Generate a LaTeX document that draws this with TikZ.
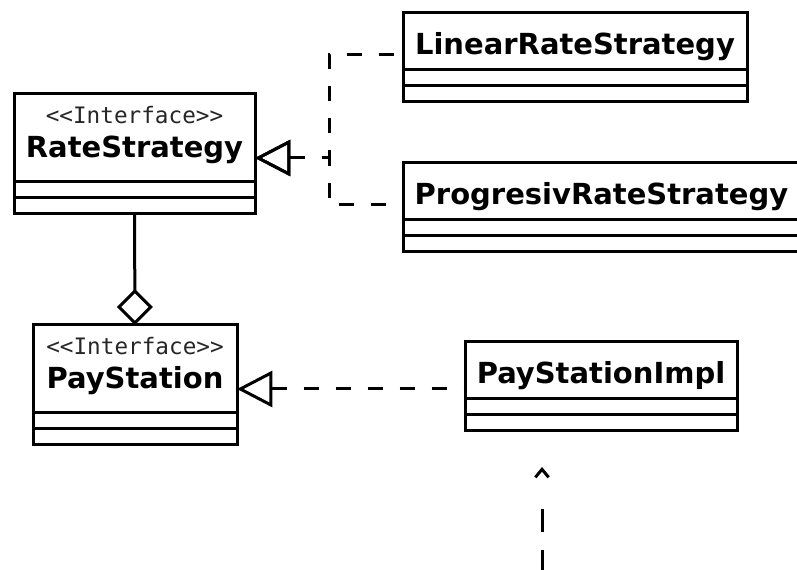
\documentclass[tikz,border=0pt]{standalone}
\usepackage{fontspec}
\setmainfont{DejaVu Sans}
\setmonofont{DejaVu Sans Mono}
\usetikzlibrary{arrows.meta,positioning}

\begin{document}
\begin{tikzpicture}[x=0.75pt,y=-0.75pt,line width=2.25pt,
  class node/.style={draw,inner sep=0pt,outer sep=0pt,anchor=north west,text height=31.5pt,text depth=11.25pt,font=\fontsize{21.75pt}{26pt}\selectfont\bfseries},
  interface node/.style={class node,text height=48pt,text depth=18pt,label={[font=\fontsize{17pt}{20pt}\selectfont\ttfamily,text=black!85,anchor=base,label distance=-22pt]north:{<<Interface>>}}},
  part node/.style={draw,inner sep=0pt,outer sep=0pt,minimum height=12pt},
  realize/.style={{Triangle[open,length=26.5pt,width=27pt]}-,dash pattern=on 11.25pt off 12.75pt},
  depend/.style={-{Straight Barb[length=6pt,width=10pt]},dash pattern=on 17.25pt off 13.5pt on 17.25pt off 31.5pt}]
  \useasboundingbox (0,0) rectangle (797,570);

  \node[interface node,minimum width=180.75pt] (rs) at (14,94) {RateStrategy};
  \node[part node,minimum width=180.75pt,below=0pt of rs] (rs-a) {};
  \node[part node,minimum width=180.75pt,below=0pt of rs-a] (rs-b) {};

  \node[interface node,minimum width=153pt] (ps) at (33,325) {PayStation};
  \node[part node,minimum width=153pt,below=0pt of ps] (ps-a) {};
  \node[part node,minimum width=153pt,below=0pt of ps-a] (ps-b) {};

  \node[class node,minimum width=258pt] (lin) at (403,13) {LinearRateStrategy};
  \node[part node,minimum width=258pt,below=0pt of lin] (lin-a) {};
  \node[part node,minimum width=258pt,below=0pt of lin-a] (lin-b) {};

  \node[class node,minimum width=297.75pt] (prog) at (403,163) {ProgresivRateStrategy};
  \node[part node,minimum width=297.75pt,below=0pt of prog] (prog-a) {};
  \node[part node,minimum width=297.75pt,below=0pt of prog-a] (prog-b) {};

  \node[class node,minimum width=204pt] (impl) at (465,342) {PayStationImpl};
  \node[part node,minimum width=204pt,below=0pt of impl] (impl-a) {};
  \node[part node,minimum width=204pt,below=0pt of impl-a] (impl-b) {};

  \coordinate (bus) at (329,0);
  \coordinate (dep) at (542,573);

  % realizations
  \draw[realize] (rs.base east) -- (bus |- rs.base east) |- (lin.base west);
  \draw[realize] (rs.base east) -- (bus |- rs.base east) |- (prog.base west);
  \draw[realize] (ps.base east) -- (impl.west |- ps.base east);

  % aggregation
  \draw[-{Diamond[open,length=27pt,width=27pt]}] (rs-b.south) -- (ps.north);

  \draw[depend,shorten >=27pt] (dep) -- (dep |- impl-b.south);
\end{tikzpicture}
\end{document}
